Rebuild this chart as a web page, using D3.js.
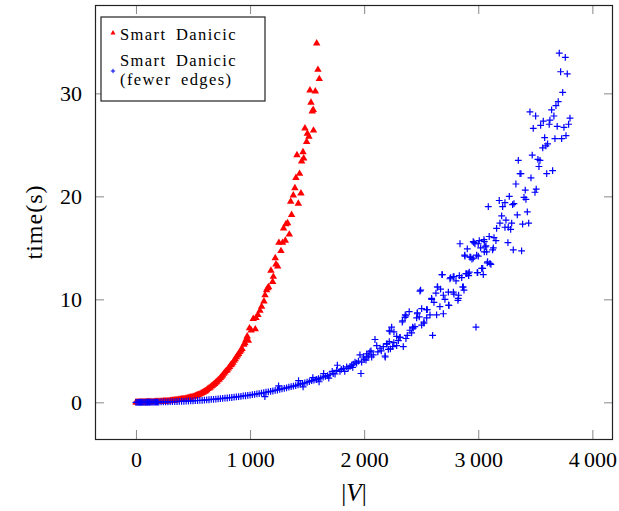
<!DOCTYPE html>
<html>
<head>
<meta charset="utf-8">
<script src="https://cdn.jsdelivr.net/npm/d3@7"></script>
<style>
  body { margin: 0; background: #fff; }
  svg text { font-family: "Liberation Serif", "DejaVu Serif", serif; fill: #000; }
</style>
</head>
<body>
<div id="chart"></div>
<script>
// series names and ticks
var seriesNames = ['Smart Danicic', 'Smart Danicic', '(fewer edges)'];
var xTicks = [0, 1000, 2000, 3000, 4000];
var yTicks = [0, 10, 20, 30];

// Smart Danicic : [|V|, time(s)]
var smartDanicic = [
  [0,0],[10,0],[20,0.01],[30,0],[40,0.01],[50,0.01],[60,0.01],[70,0.02],[80,0.01],[90,0.02],
  [100,0.02],[110,0.03],[120,0.02],[130,0.03],[140,0.03],[150,0.04],[160,0.04],[170,0.05],[180,0.05],[190,0.06],
  [200,0.06],[210,0.07],[220,0.07],[230,0.08],[240,0.09],[250,0.1],[260,0.1],[270,0.11],[280,0.12],[290,0.13],
  [300,0.14],[310,0.15],[320,0.17],[330,0.18],[340,0.19],[350,0.21],[360,0.22],[370,0.24],[380,0.25],[390,0.27],
  [400,0.29],[410,0.31],[420,0.33],[430,0.35],[440,0.37],[450,0.4],[460,0.42],[470,0.45],[480,0.48],[490,0.5],
  [500,0.54],[510,0.57],[520,0.61],[530,0.65],[540,0.7],[550,0.74],[560,0.79],[570,0.86],[580,0.92],[590,0.97],
  [600,1.04],[610,1.1],[620,1.18],[630,1.3],[640,1.36],[650,1.44],[660,1.55],[670,1.62],[680,1.72],[690,1.8],
  [700,1.92],[710,2.02],[720,2.15],[730,2.22],[740,2.38],[750,2.5],[760,2.62],[770,2.78],[780,2.9],[790,3.05],
  [800,3.12],[810,3.3],[820,3.45],[830,3.62],[840,3.7],[850,3.85],[860,4.05],[870,4.2],[880,4.4],[890,4.55],
  [900,4.7],[910,4.9],[920,5.05],[930,5.2],[945,5.6],[955,5.75],[965,6.1],[975,6.4],[985,6.0],[995,7.2],
  [1010,7.0],[1028,8.1],[1046,7.1],[1052,8.2],[1069,8.5],[1087,8.9],[1101,9.3],[1122,9.8],[1131,10.4],[1145,10.9],
  [1154,11.1],[1163,11.2],[1183,12.8],[1198,11.7],[1204,12.2],[1221,14.0],[1227,13.4],[1242,13.2],[1253,15.5],[1271,14.7],
  [1285,15.5],[1294,16.9],[1309,15.7],[1315,17.3],[1329,17.4],[1344,16.3],[1356,19.5],[1364,18.2],[1379,20.1],[1393,20.8],
  [1402,21.8],[1411,24.0],[1423,19.3],[1434,22.2],[1446,20.3],[1452,23.4],[1464,24.3],[1470,23.7],[1481,26.6],[1496,25.3],
  [1502,26.1],[1516,25.8],[1525,30.3],[1534,29.1],[1545,28.25],[1554,28.4],[1556,26.4],[1572,30.2],[1584,34.85],[1595,32.3],
  [1607,31.4]
];

// Smart Danicic (fewer edges) : [|V|, time(s)]
var smartDanicicFewer = [
  [0,0],[10,0],[20,0],[30,0.01],[40,0],[50,0.01],[60,0.01],[70,0],[80,0.01],[90,0.01],
  [100,0.01],[110,0.02],[120,0.01],[130,0.02],[140,0.02],[150,0.02],[160,0.03],[170,0.02],[180,0.03],[190,0.03],
  [200,0.03],[220,0.04],[240,0.04],[260,0.05],[280,0.05],[300,0.06],[320,0.07],[340,0.07],[360,0.08],[380,0.09],
  [400,0.1],[420,0.1],[440,0.12],[460,0.13],[480,0.14],[500,0.15],[520,0.16],[540,0.18],[560,0.19],[580,0.2],
  [600,0.22],[620,0.24],[640,0.25],[660,0.28],[680,0.29],[700,0.31],[720,0.33],[740,0.36],[760,0.38],[780,0.4],
  [800,0.42],[820,0.45],[840,0.47],[860,0.5],[880,0.53],[900,0.55],[920,0.58],[940,0.62],[960,0.64],[980,0.68],
  [1000,0.7],[1020,0.74],[1040,0.77],[1060,0.82],[1080,0.85],[1100,0.9],[1120,0.93],[1130,0.55],[1140,0.98],[1160,1.02],
  [1180,1.06],[1200,1.1],[1220,1.16],[1240,1.2],[1250,1.6],[1260,1.25],[1280,1.3],[1300,1.36],[1320,1.4],[1340,1.47],
  [1360,1.52],[1380,1.58],[1400,1.63],[1420,1.7],[1425,2.1],[1440,1.76],[1460,1.83],[1465,1.5],[1480,1.88],[1500,1.95],
  [1520,2.02],[1540,2.1],[1550,2.4],[1560,2.16],[1580,2.22],[1584,2.2],[1600,2.3],[1605,2.0],[1620,2.37],[1640,2.45],
  [1645,2.8],[1660,2.52],[1680,2.6],[1690,2.35],[1700,2.68],[1720,3.0],[1729,2.8],[1745,2.75],[1759,3.1],[1765,3.6],
  [1788,3.0],[1800,3.2],[1818,3.3],[1830,3.0],[1847,3.45],[1860,3.3],[1876,3.5],[1891,3.6],[1900,3.4],[1905,3.7],
  [1920,3.9],[1934,3.8],[1950,4.0],[1963,4.6],[1972,2.8],[1978,3.9],[1993,4.4],[2000,4.2],[2016,4.1],[2022,4.7],
  [2025,4.4],[2040,4.5],[2051,4.9],[2060,5.0],[2066,4.4],[2080,4.6],[2095,6.1],[2110,5.5],[2120,4.9],[2139,5.25],
  [2150,5.0],[2168,5.4],[2183,4.5],[2185,4.4],[2197,5.65],[2200,5.7],[2212,5.15],[2220,5.9],[2226,6.9],[2230,5.2],
  [2241,7.3],[2250,5.4],[2260,5.8],[2261,6.85],[2220,6.95],[2285,5.5],[2285,6.4],[2300,6.0],[2314,6.3],[2314,6.3],
  [2334,7.8],[2337,7.9],[2343,5.4],[2358,8.25],[2360,8.5],[2366,8.4],[2366,6.2],[2378,6.5],[2395,8.8],[2401,7.0],
  [2416,6.75],[2425,7.3],[2430,7.2],[2445,7.35],[2460,8.2],[2466,8.6],[2466,8.7],[2483,8.3],[2489,10.8],[2495,10.9],
  [2504,9.1],[2504,7.5],[2524,7.8],[2524,7.7],[2547,9.0],[2548,8.2],[2553,9.0],[2577,8.5],[2591,10.1],[2592,10.0],
  [2600,6.5],[2612,9.7],[2629,10.6],[2635,8.5],[2641,11.2],[2644,11.2],[2664,9.3],[2670,11.0],[2682,12.4],[2685,12.4],
  [2694,10.4],[2694,8.6],[2708,10.0],[2738,10.7],[2740,9.45],[2743,9.4],[2752,12.0],[2758,12.1],[2781,12.2],[2782,10.7],
  [2787,12.2],[2787,10.5],[2805,11.8],[2822,9.9],[2825,10.1],[2828,10.4],[2834,12.3],[2840,15.4],[2855,12.1],[2863,11.2],
  [2869,11.2],[2875,10.9],[2881,14.3],[2883,14.2],[2892,12.5],[2898,12.5],[2904,14.9],[2912,12.5],[2916,12.3],[2921,12.65],
  [2927,14.1],[2934,14.1],[2945,13.9],[2956,15.6],[2956,14.0],[2962,15.5],[2971,15.4],[2980,7.3],[2986,14.3],[2991,12.6],
  [2995,12.6],[3000,14.2],[3000,15.4],[3009,15.7],[3021,15.0],[3030,13.0],[3039,13.0],[3044,12.4],[3050,15.8],[3053,15.6],
  [3053,14.6],[3061,15.1],[3068,15.2],[3074,14.6],[3079,13.55],[3082,13.65],[3088,19.0],[3096,16.1],[3103,13.5],[3111,13.4],
  [3126,14.8],[3132,15.0],[3138,16.0],[3155,15.7],[3161,16.9],[3184,19.6],[3190,17.4],[3205,18.1],[3214,19.0],[3234,19.4],
  [3234,17.0],[3243,17.7],[3260,15.5],[3263,17.0],[3272,20.0],[3284,16.8],[3293,17.4],[3301,19.2],[3307,14.8],[3313,19.3],
  [3330,21.2],[3342,18.2],[3351,23.5],[3366,22.2],[3374,22.2],[3380,14.7],[3389,17.3],[3401,19.9],[3412,20.6],[3418,19.7],
  [3430,18.5],[3442,17.4],[3453,28.2],[3462,21.8],[3473,24.0],[3482,26.6],[3497,20.4],[3503,27.8],[3508,20.7],[3523,23.6],
  [3532,22.9],[3541,23.5],[3547,26.9],[3565,24.7],[3570,27.3],[3582,25.7],[3593,24.9],[3600,22.2],[3608,25.1],[3622,27.0],
  [3628,27.4],[3643,28.4],[3652,22.5],[3663,27.8],[3672,25.6],[3681,28.8],[3692,26.8],[3701,29.2],[3710,33.9],[3722,32.1],
  [3731,25.6],[3740,30.1],[3751,26.7],[3763,33.5],[3769,25.9],[3780,31.9],[3792,27.0],[3804,27.6]
];

var svgWidth = 619, svgHeight = 511;
var margin = { top: 5, right: 6, bottom: 72, left: 95 };
var chartWidth = svgWidth - margin.left - margin.right;
var chartHeight = svgHeight - margin.top - margin.bottom;

var svg = d3.select('#chart').append('svg')
    .attr('width', svgWidth)
    .attr('height', svgHeight);

var xScale = d3.scaleLinear().domain([-359, 4181]).range([0, chartWidth]);
var yScale = d3.scaleLinear().domain([-3.56, 38.58]).range([chartHeight, 0]);

var fmt = function (d) {
    return d >= 1000 ? (d / 1000) + '\u2009000' : String(d);
};

var chartLayer = svg.append('g')
    .attr('transform', 'translate(' + [margin.left, margin.top] + ')');

// inside ticks on all four sides
var tickLen = 9;
var styleAxis = function (g) {
    g.select('.domain').remove();
    g.selectAll('.tick line').attr('stroke', '#888').attr('stroke-width', 1);
    g.selectAll('.tick text').style('font-size', '22px').attr('fill', '#000');
};

chartLayer.append('g')
    .attr('transform', 'translate(0,' + chartHeight + ')')
    .call(d3.axisBottom(xScale).tickValues(xTicks).tickSizeInner(-tickLen).tickPadding(12).tickFormat(fmt))
    .call(styleAxis);
chartLayer.append('g')
    .call(d3.axisTop(xScale).tickValues(xTicks).tickSizeInner(-tickLen).tickFormat(''))
    .call(styleAxis);
chartLayer.append('g')
    .call(d3.axisLeft(yScale).tickValues(yTicks).tickSizeInner(-tickLen).tickPadding(13).tickFormat(fmt))
    .call(styleAxis);
chartLayer.append('g')
    .attr('transform', 'translate(' + chartWidth + ',0)')
    .call(d3.axisRight(yScale).tickValues(yTicks).tickSizeInner(-tickLen).tickFormat(''))
    .call(styleAxis);

// data marks
var tri = d3.symbol(d3.symbolTriangle, 24);
chartLayer.append('g').selectAll('path')
    .data(smartDanicic)
    .enter().append('path')
    .attr('d', tri)
    .attr('transform', function (d) { return 'translate(' + xScale(d[0]) + ',' + yScale(d[1]) + ')'; })
    .attr('fill', '#ff0000');

var plus = 'M-3.4,0H3.4M0,-3.4V3.4';
chartLayer.append('g').selectAll('path')
    .data(smartDanicicFewer)
    .enter().append('path')
    .attr('d', plus)
    .attr('transform', function (d) { return 'translate(' + xScale(d[0]) + ',' + yScale(d[1]) + ')'; })
    .attr('fill', 'none')
    .attr('stroke', '#0000ff')
    .attr('stroke-width', 1.2);

// frame
chartLayer.append('rect')
    .attr('x', 0.5).attr('y', 0.5)
    .attr('width', chartWidth - 1).attr('height', chartHeight)
    .attr('fill', 'none').attr('stroke', '#222').attr('stroke-width', 1.2);

// legend
var legend = svg.append('g').attr('transform', 'translate(101,17)');
legend.append('rect')
    .attr('width', 164).attr('height', 84)
    .attr('fill', '#fff').attr('stroke', '#222').attr('stroke-width', 1.2);
legend.append('path')
    .attr('d', d3.symbol(d3.symbolTriangle, 11))
    .attr('transform', 'translate(12,16)')
    .attr('fill', '#ff0000');
legend.append('path')
    .attr('d', 'M-2.2,0H2.2M0,-2.2V2.2')
    .attr('transform', 'translate(12,54)')
    .attr('stroke', '#0000ff').attr('stroke-width', 1);
var legendText = [[seriesNames[0], 23], [seriesNames[1], 49], [seriesNames[2], 67.5]];
legend.selectAll('text.lbl')
    .data(legendText)
    .enter().append('text')
    .attr('class', 'lbl')
    .attr('x', 19)
    .attr('y', function (d) { return d[1]; })
    .attr('fill', '#000')
    .style('font-size', '16.5px')
    .style('letter-spacing', '1.4px')
    .style('word-spacing', '4px')
    .text(function (d) { return d[0]; });

// axis labels
var xLabel = svg.append('text')
    .attr('x', 354).attr('y', 501)
    .attr('text-anchor', 'middle')
    .attr('fill', '#000')
    .style('font-size', '25px');
xLabel.append('tspan').attr('fill', '#000').text('|');
xLabel.append('tspan').attr('fill', '#000').style('font-style', 'italic').text('V');
xLabel.append('tspan').attr('fill', '#000').text('|');

svg.append('text')
    .attr('transform', 'translate(42,222) rotate(-90)')
    .attr('text-anchor', 'middle')
    .attr('fill', '#000')
    .style('font-size', '24px')
    .style('letter-spacing', '1px')
    .text('time(s)');
</script>
</body>
</html>
